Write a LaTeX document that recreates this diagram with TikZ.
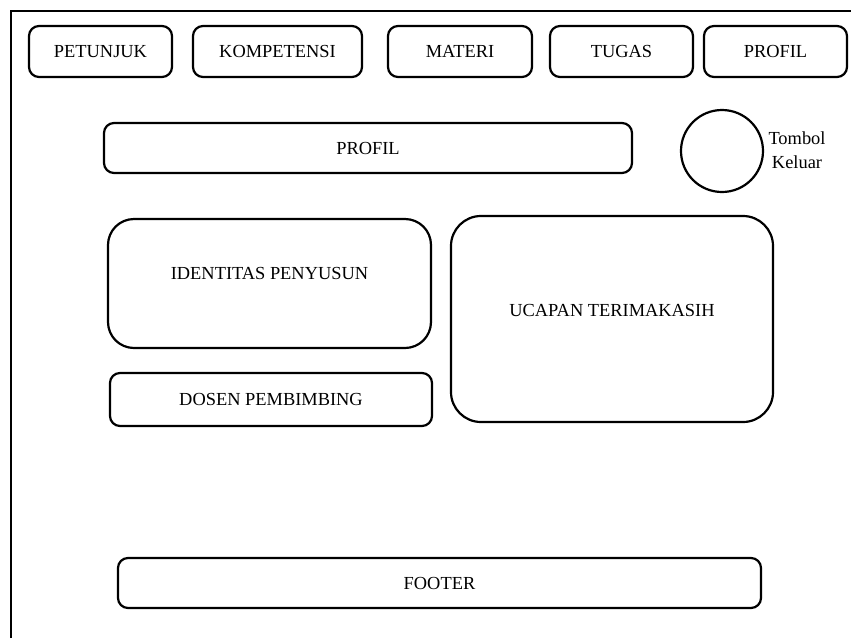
\documentclass[tikz,border=0pt]{standalone}
\usepackage{fontspec}
\setmainfont{Liberation Serif}
\usetikzlibrary{positioning}

\begin{document}
\begin{tikzpicture}[x=0.5pt, y=-0.5pt,
    txt/.style={font=\fontsize{9.2}{12}\selectfont},
    tab/.style={rectangle, draw, line width=1.1pt, rounded corners=5pt, minimum height=25.5pt, txt},
    bar/.style={rectangle, draw, line width=1.1pt, rounded corners=5pt, minimum height=25pt, txt},
    panel/.style={rectangle, draw, line width=1.1pt, rounded corners=13pt}
]
\useasboundingbox (0,0) rectangle (851,638);
\draw[line width=1.2pt] (11,638) -- (11,11) -- (851,11);

% menu
\node[tab, minimum width=71.5pt] (petunjuk) at (100.5,51.5) {PETUNJUK};
\node[tab, minimum width=84.5pt] (kompetensi) at (277.5,51.5) {KOMPETENSI};
\node[tab, minimum width=72pt] (materi) at (460,51.5) {MATERI};
\node[tab, minimum width=71.5pt] (tugas) at (621.5,51.5) {TUGAS};
\node[tab, minimum width=71.5pt] (profiltab) at (775.5,51.5) {PROFIL};

% judul + tombol keluar
\node[bar, minimum width=264pt] (profil) at (368,148) {PROFIL};
\node[circle, draw, line width=1.1pt, minimum size=41pt] (keluar) at (722,151) {};
\node[txt, align=center] (keluarlbl) at (797,150) {Tombol\\Keluar};

% isi
\node[panel, minimum width=161.5pt, minimum height=64.5pt] (ident) at (269.5,283.5) {};
\node[txt] (identlbl) at (269.5,273) {IDENTITAS PENYUSUN};
\node[bar, minimum width=161pt, minimum height=26.5pt] (dosen) at (271,399.5) {DOSEN PEMBIMBING};
\node[panel, rounded corners=15pt, minimum width=161pt, minimum height=103pt] (ucapan) at (612,319) {};
\node[txt] (ucapanlbl) at (612,310) {UCAPAN TERIMAKASIH};

% footer
\node[bar, minimum width=321.5pt] (footer) at (439.5,583) {FOOTER};
\end{tikzpicture}
\end{document}
